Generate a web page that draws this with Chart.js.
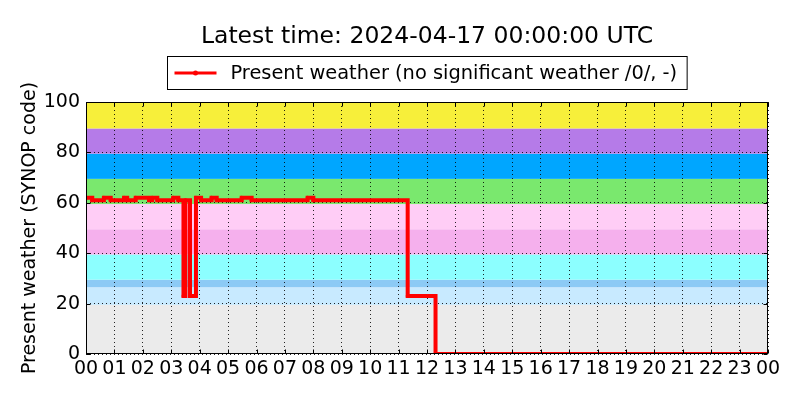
<!DOCTYPE html>
<html>
<head>
<meta charset="utf-8">
<script src="https://cdn.jsdelivr.net/npm/chart.js@4/dist/chart.umd.min.js"></script>
<style>
  html, body { margin: 0; padding: 0; background: #fff; }
  #wrap { width: 800px; height: 400px; }
</style>
</head>
<body>
<div id="wrap"><canvas id="wxChart" width="800" height="400"></canvas></div>
<script>
/* ── data ── */
const TITLE  = 'Latest time: 2024-04-17 00:00:00 UTC';
const SERIES = 'Present weather (no significant weather /0/, -)';
const YLABEL = 'Present weather (SYNOP code)';

// hours since 00 UTC where the code changes, and the code held from there on
const hours   = [0, 0.22, 0.63, 0.87, 1.34, 1.45, 1.75, 2.22, 2.33, 2.51, 3.07, 3.25, 3.43, 3.50, 3.66, 3.87, 4.05, 4.42, 4.60, 5.48, 5.83, 7.80, 8.00, 11.32, 12.30, 24];
const weather = [62,   61,   62,   61,   62,   61,   62,   61,   62,   61,   62,   61,   23,   61,   23,   62,   61,   62,   61,   62,   61,   62,   61,   23,    0,     0];

const xTickLabels = ['00','01','02','03','04','05','06','07','08','09','10','11','12',
                     '13','14','15','16','17','18','19','20','21','22','23','00'];
const yTicks = [0, 20, 40, 60, 80, 100];

// SYNOP code groups shaded behind the series
const bandEdges  = [0, 19.5, 26.5, 29.5, 39.5, 49.5, 59.5, 69.5, 79.5, 89.5, 100];
const bandColors = ['#ebebeb', '#c8eaff', '#8ccaf5', '#8cffff', '#f5b0ed',
                    '#ffcdf6', '#7ae86e', '#00a6ff', '#b57be8', '#f7ef3a'];

const FONT = 'DejaVu Sans';
const RED  = '#ff0000';

/* ── plugins ── */
const bandsPlugin = {
  id: 'bands',
  beforeDraw(chart) {
    const { ctx, chartArea: a, scales: { y } } = chart;
    ctx.save();
    for (let i = 0; i < bandColors.length; i++) {
      const top = y.getPixelForValue(bandEdges[i + 1]);
      const bot = y.getPixelForValue(bandEdges[i]);
      ctx.fillStyle = bandColors[i];
      ctx.fillRect(a.left, top, a.right - a.left, bot - top);
    }
    ctx.restore();
  }
};

const framePlugin = {
  id: 'frame',
  afterDraw(chart) {
    const { ctx, chartArea: a, scales: { x, y } } = chart;
    const L = Math.round(a.left) + 0.5, R = Math.round(a.right) - 0.5;
    const T = Math.round(a.top) + 0.5,  B = Math.round(a.bottom) - 0.5;
    ctx.save();
    ctx.strokeStyle = '#000';
    ctx.lineWidth = 1;
    // inward ticks, all four sides
    ctx.beginPath();
    x.ticks.forEach(t => {
      const px = Math.round(x.getPixelForValue(t.value)) + 0.5;
      ctx.moveTo(px, B); ctx.lineTo(px, B - 4);
      ctx.moveTo(px, T); ctx.lineTo(px, T + 4);
    });
    y.ticks.forEach(t => {
      const py = Math.round(y.getPixelForValue(t.value)) + 0.5;
      ctx.moveTo(L, py); ctx.lineTo(L + 4, py);
      ctx.moveTo(R, py); ctx.lineTo(R - 4, py);
    });
    ctx.stroke();
    ctx.strokeRect(L, T, R - L, B - T);

    // legend box
    ctx.font = '19.4px "' + FONT + '"';
    const tw = ctx.measureText(SERIES).width;
    const boxW = 7 + 42 + 14 + tw + 10;
    const cx = (a.left + a.right) / 2;
    const x0 = Math.round(cx - boxW / 2) + 0.5, y0 = 56.5, h = 33;
    ctx.fillStyle = '#fff';
    ctx.fillRect(x0, y0, boxW, h);
    ctx.strokeRect(x0, y0, boxW, h);
    const ly = y0 + h / 2;
    ctx.strokeStyle = RED;
    ctx.lineWidth = 3;
    ctx.beginPath();
    ctx.moveTo(x0 + 7, ly); ctx.lineTo(x0 + 49, ly);
    ctx.stroke();
    ctx.fillStyle = RED;
    ctx.beginPath();
    ctx.arc(x0 + 28, ly, 2.5, 0, Math.PI * 2);
    ctx.fill();
    ctx.fillStyle = '#000';
    ctx.textBaseline = 'middle';
    ctx.textAlign = 'left';
    ctx.fillText(SERIES, x0 + 63, ly + 1);
    ctx.restore();
  }
};

/* ── chart ── */
const gridOpts = { color: 'rgba(0,0,0,0.85)', lineWidth: 1, drawTicks: false };
const borderOpts = { display: false, dash: [1, 3] };
const tickFont = { family: FONT, size: 19 };

new Chart(document.getElementById('wxChart'), {
  type: 'line',
  data: {
    datasets: [{
      label: SERIES,
      data: hours.map((h, i) => ({ x: h, y: weather[i] })),
      borderColor: RED,
      backgroundColor: RED,
      borderWidth: 4,
      pointRadius: 2,
      pointBorderWidth: 0,
      stepped: true,
      fill: false,
    }]
  },
  options: {
    responsive: false,
    animation: false,
    events: [],
    layout: { padding: { left: 0, right: 32, top: 0, bottom: 0 } },
    plugins: {
      legend: { display: false },
      tooltip: { enabled: false },
      title: {
        display: true,
        fullSize: false,
        text: TITLE,
        color: '#000',
        font: { family: FONT, size: 23.5, weight: 'normal' },
        padding: { top: 23, bottom: 50.8 },
      },
    },
    scales: {
      x: {
        type: 'linear',
        min: 0, max: 24,
        grid: gridOpts,
        border: borderOpts,
        ticks: {
          stepSize: 1, autoSkip: false, maxRotation: 0,
          color: '#000', font: tickFont, padding: 4,
          callback: v => xTickLabels[v],
        },
        afterFit: s => { s.height = 46; },
      },
      y: {
        min: 0, max: 100,
        grid: gridOpts,
        border: borderOpts,
        afterBuildTicks: s => { s.ticks = yTicks.map(v => ({ value: v })); },
        ticks: { color: '#000', font: tickFont, padding: 6 },
        title: {
          display: true,
          text: YLABEL,
          color: '#000',
          font: { family: FONT, size: 19 },
          padding: { top: 19, bottom: 0 },
        },
        afterFit: s => { s.width = 86; },
      }
    }
  },
  plugins: [bandsPlugin, framePlugin]
});
</script>
</body>
</html>
